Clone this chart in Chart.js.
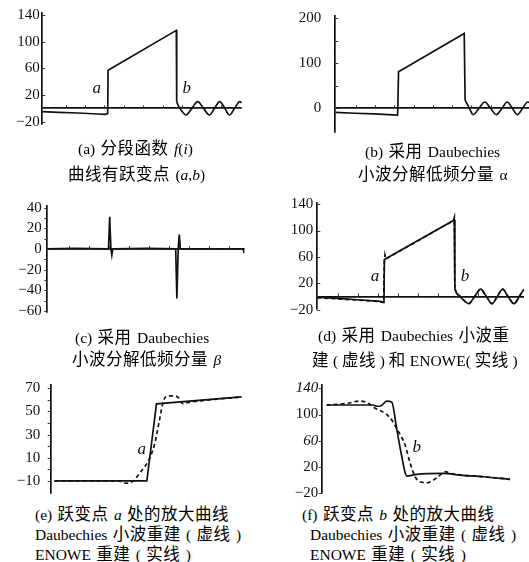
<!DOCTYPE html>
<html><head><meta charset="utf-8">
<script src="https://cdn.jsdelivr.net/npm/chart.js@4.4.1/dist/chart.umd.min.js"></script>
<style>
html,body{margin:0;padding:0;background:#fff;}
#page{position:relative;width:529px;height:562px;overflow:hidden;background:#fff;}
canvas{position:absolute;}
.cap{position:absolute;white-space:nowrap;font-family:"Liberation Serif",serif;font-size:15.5px;line-height:20px;color:#000;word-spacing:1.5px;}
.cap .z{font-family:"Noto Sans CJK SC",sans-serif;font-size:16.5px;letter-spacing:0.5px;}
.cap.tight{word-spacing:0;}
</style></head><body><div id="page">
<canvas id="ca"></canvas><canvas id="cb"></canvas><canvas id="cc"></canvas>
<canvas id="cd"></canvas><canvas id="ce"></canvas><canvas id="cf"></canvas>
<div class="cap" style="left:78px;top:137px">(a) <span class="z">分段函数</span> <i>f</i>(<i>i</i>)</div>
<div class="cap" style="left:68px;top:163px"><span class="z">曲线有跃变点</span> (<i>a</i>,<i>b</i>)</div>
<div class="cap" style="left:365px;top:140px">(b) <span class="z">采用</span> Daubechies</div>
<div class="cap" style="left:358px;top:163px"><span class="z">小波分解低频分量</span> α</div>
<div class="cap" style="left:75px;top:326px">(c) <span class="z">采用</span> Daubechies</div>
<div class="cap" style="left:72px;top:348px"><span class="z">小波分解低频分量</span> <i>β</i></div>
<div class="cap" style="left:318px;top:324px">(d) <span class="z">采用</span> Daubechies <span class="z">小波重</span></div>
<div class="cap tight" style="left:312px;top:349px"><span class="z">建</span> ( <span class="z">虚线</span> ) <span class="z">和</span> ENOWE( <span class="z">实线</span> )</div>
<div class="cap" style="left:35px;top:503px">(e) <span class="z">跃变点</span> <i>a</i> <span class="z">处的放大曲线</span></div>
<div class="cap" style="left:35px;top:523px">Daubechies <span class="z">小波重建</span> ( <span class="z">虚线</span> )</div>
<div class="cap" style="left:35px;top:543px">ENOWE <span class="z">重建</span> ( <span class="z">实线</span> )</div>
<div class="cap" style="left:302px;top:503px">(f) <span class="z">跃变点</span> <i>b</i> <span class="z">处的放大曲线</span></div>
<div class="cap" style="left:310px;top:523px">Daubechies <span class="z">小波重建</span> ( <span class="z">虚线</span> )</div>
<div class="cap" style="left:310px;top:543px">ENOWE <span class="z">重建</span> ( <span class="z">实线</span> )</div>
</div>
<script>
// ---------- data ----------
// (a) piecewise function f(i): straight part and oscillating tail
const aX = [-5, 20, 50, 80, 92, 96, 96.6, 202, 202.6];
const aY = [-5, -6, -7, -8.5, -9, -8, 57, 117, 10];
const aWaveX = [202.6, 205, 209, 217, 226, 235, 244, 253, 261, 269, 277, 284, 292, 300, 303];
const aWaveY = [10, 4, -2, -10, 0, 10, 0, -10, 0, 10, 0, -10, 0, 10, 8];
const aTicksX = [31, 91, 151, 211, 271];
const aTicksY = [-20, 0, 20, 60, 100, 140];
const aMinorX = [31, 61, 91, 121, 151, 181, 211, 241, 271];
const aMinorY = [-20, 20, 60, 100, 140];
// (b) low-frequency component alpha
const bX = [0, 15, 30, 45, 48.6, 49.3, 100.5, 101.2];
const bY = [-9, -11, -12.5, -14.5, -15, 81, 166, 18];
const bWaveX = [101.2, 104, 107.5, 112, 116.5, 121, 125.5, 130, 134, 138, 142, 146, 150, 152];
const bWaveY = [18, 3, -14, 0, 14, 0, -14, 0, 14, 0, -14, 0, 14, 12];
const bTicksX = [16, 46, 76, 106, 136];
const bTicksY = [0, 100, 200];
const bMinorX = [16, 31, 46, 61, 76, 91, 106, 121, 136];
const bMinorY = [0, 50, 100, 150, 200];
// (c) component beta
const cX = [0, 20, 45.9, 46.8, 47.7, 48.4, 49.1, 75, 96.3, 97.2, 98.2, 99.0, 99.8, 125, 147, 147.6];
const cY = [0, 0.5, 0, 31, 0, -6, 0, 0.5, 0, -48, 0, 14, 0, 0, 0, -4];
const cTicksX = [16, 46, 76, 106, 136];
const cTicksY = [-60, -40, -20, 0, 20, 40];
const cMinorX = [16, 31, 46, 61, 76, 91, 106, 121, 136];
const cMinorY = [-60, -50, -40, -30, -20, -10, 10, 20, 30, 40];
// (d) reconstruction: ENOWE (solid) and Daubechies (dashed); tails coincide
const dSolidX = [0, 30, 60, 90, 100, 100.6, 205.5, 206.3];
const dSolidY = [-1, -3, -5, -7, -8, 56, 116, 12];
const dDashX = [0, 30, 60, 90, 99.6, 100.4, 101.5, 103, 204, 205.5, 206.3];
const dDashY = [-2, -3.5, -5.5, -7.5, -9, 50, 63, 57, 115, 120, 12];
const dWaveX = [206.3, 209, 214, 220, 227, 236, 245, 253.5, 262, 270, 278, 286, 295, 303, 310];
const dWaveY = [12, 5, 0, -6, -11, 0, 11, 0, -11, 0, 11, 0, -11, 0, 11];
const dTicksX = [31, 91, 151, 211, 271];
const dTicksY = [-20, 0, 20, 60, 100, 140];
const dMinorX = [31, 61, 91, 121, 151, 181, 211, 241, 271];
const dMinorY = [-20, 20, 60, 100, 140];
// (e) zoom at jump a
const eSolidX = [2, 50, 55, 99.3];
const eSolidY = [-10, -10, 56.5, 62.5];
const eDashX = [2, 35, 39.5, 43, 46.4, 51.6, 54.2, 56.5, 58.6, 61.2, 65.5, 69, 71, 80, 99.3];
const eDashY = [-10, -10, -12, -10, -3, 10, 23, 42, 59, 63.5, 63, 56.5, 57.5, 59.5, 62.5];
const eTicksY = [-10, 10, 30, 50, 70];
const eMinorY = [-10, 0, 10, 20, 30, 40, 50, 60, 70];
// (f) zoom at jump b
const fSolidX = [2.6, 27.2, 28.9, 31, 34.2, 36.8, 39.5, 42.1, 43.8, 44.7, 49.9, 63.9, 72.7, 84.9, 98.9];
const fSolidY = [114.5, 114.5, 112.6, 113, 120.5, 119, 76.6, 35.7, 12, 6.3, 8.9, 10.4, 7.8, 5.2, 1.3];
const fDashX = [2.6, 13.2, 20.2, 24.5, 28.1, 33.3, 36.8, 39.8, 43.8, 46.5, 49.1, 51.7, 55.3, 58.7, 62.3, 64.9, 67.6, 75, 85, 99];
const fDashY = [114.5, 117, 120.6, 117, 109.5, 102, 91.7, 76.6, 53.6, 25.7, 5.2, -2.4, -3.9, 0.2, 7.8, 12.9, 10.4, 7.5, 5.2, 1.3];
const fTicksY = [-20, 20, 60, 100, 140];
const fMinorY = [-20, 20, 60, 100, 140];
const fItalicTicks = [140, 60];

// ---------- drawing ----------
Chart.defaults.font.family = '"Liberation Serif", serif';
Chart.defaults.color = '#000';
const INK = '#111';

const textMarks = {
  id: 'textMarks',
  afterDatasetsDraw(chart, args, opts) {
    const items = (opts && opts.items) || [];
    const ctx = chart.ctx;
    ctx.save();
    ctx.font = 'italic 17px "Liberation Serif", serif';
    ctx.fillStyle = INK;
    ctx.textAlign = 'center';
    ctx.textBaseline = 'middle';
    items.forEach(m => ctx.fillText(m.text, chart.scales.x.getPixelForValue(m.x), chart.scales.y.getPixelForValue(m.y)));
    ctx.restore();
  }
};
// small tick marks along the zero line and the y axis
const minorTicks = {
  id: 'minorTicks',
  afterDraw(chart, args, opts) {
    if (!opts) return;
    const ctx = chart.ctx, sx = chart.scales.x, sy = chart.scales.y, area = chart.chartArea;
    ctx.save();
    ctx.strokeStyle = '#333';
    ctx.lineWidth = 1;
    ctx.beginPath();
    if (opts.xs) {
      const y0 = sy.getPixelForValue(0);
      opts.xs.forEach(v => { const p = Math.round(sx.getPixelForValue(v)) + 0.5; ctx.moveTo(p, y0); ctx.lineTo(p, y0 - 3); });
    }
    if (opts.ys) {
      const side = opts.ySide || 1;
      opts.ys.forEach(v => { const p = Math.round(sy.getPixelForValue(v)) + 0.5; ctx.moveTo(area.left, p); ctx.lineTo(area.left + side * 3, p); });
    }
    ctx.stroke();
    ctx.restore();
  }
};
Chart.register(textMarks, minorTicks);

function pts(xs, ys) { return xs.map((x, i) => ({ x: x, y: ys[i] })); }
function fmt(v) { return v < 0 ? '\u2212' + Math.abs(v) : String(v); }
function line(xs, ys, dashed, curve) {
  return {
    data: pts(xs, ys), borderColor: INK, borderWidth: 1.7, pointRadius: 0, fill: false,
    borderDash: dashed ? [4, 3] : [], cubicInterpolationMode: curve ? 'monotone' : 'default', tension: 0
  };
}

function panel(id, box, area, o) {
  const cv = document.getElementById(id);
  cv.width = box.w; cv.height = box.h;
  cv.style.left = box.l + 'px'; cv.style.top = box.t + 'px';
  cv.style.width = box.w + 'px'; cv.style.height = box.h + 'px';
  const yW = area.l - box.l;
  const pad = { left: 0, top: area.t - box.t, right: box.l + box.w - area.r, bottom: box.t + box.h - area.b };
  new Chart(cv, {
    type: 'line',
    data: { datasets: o.datasets },
    options: {
      responsive: false, animation: false, events: [],
      layout: { padding: pad },
      plugins: { legend: { display: false }, tooltip: { enabled: false },
        textMarks: { items: o.marks || [] }, minorTicks: o.minor || {} },
      scales: {
        x: {
          type: 'linear', min: o.xMin, max: o.xMax, display: !!o.xTicks, position: 'bottom',
          border: { display: false }, grid: { display: false, drawTicks: false },
          ticks: { padding: o.xPad || 0, autoSkip: false, maxRotation: 0, font: { size: 15 }, color: INK, callback: v => fmt(v) },
          afterBuildTicks: s => { if (o.xTicks) s.ticks = o.xTicks.map(v => ({ value: v })); },
          afterFit: s => { s.height = 0; s.paddingLeft = 0; s.paddingRight = 0; }
        },
        y: {
          type: 'linear', min: o.yMin, max: o.yMax, position: 'left',
          border: { display: true, color: INK, width: 1.7 },
          grid: { display: !!o.zero, drawTicks: false, lineWidth: 1.7,
            color: c => (c.tick && c.tick.value === 0) ? INK : 'rgba(0,0,0,0)' },
          ticks: { padding: o.yPad, autoSkip: false, color: INK,
            font: c => ({ size: 15, style: (o.italicTicks && c.tick && o.italicTicks.includes(c.tick.value)) ? 'italic' : 'normal' }),
            callback: v => (o.hideZero && v === 0) ? '' : fmt(v) },
          afterBuildTicks: s => { s.ticks = o.yTicks.map(v => ({ value: v })); },
          afterFit: s => { s.width = yW; s.paddingTop = 0; s.paddingBottom = 0; }
        }
      }
    }
  });
}

panel('ca', { l: 0, t: 0, w: 260, h: 140 }, { l: 42.3, t: 12.7, r: 241.7, b: 124 }, {
  datasets: [line(aX, aY, false, false), line(aWaveX, aWaveY, false, true)],
  xMin: -5, xMax: 303, yMin: -23.5, yMax: 143.5, xTicks: aTicksX, yTicks: aTicksY,
  xPad: -9.7, yPad: 2.5, zero: true, hideZero: true,
  minor: { xs: aMinorX, ys: aMinorY },
  marks: [{ text: 'a', x: 79, y: 30 }, { text: 'b', x: 218, y: 30 }]
});
panel('cb', { l: 265, t: 0, w: 264, h: 140 }, { l: 335.3, t: 16, r: 529, b: 131.7 }, {
  datasets: [line(bX, bY, false, false), line(bWaveX, bWaveY, false, true)],
  xMin: 0, xMax: 151, yMin: -52, yMax: 205, xTicks: bTicksX, yTicks: bTicksY,
  xPad: -17.4, yPad: 14, zero: true,
  minor: { xs: bMinorX, ys: bMinorY }
});
panel('cc', { l: 0, t: 190, w: 260, h: 135 }, { l: 47.3, t: 205.5, r: 244.6, b: 312 }, {
  datasets: [line(cX, cY, false, false)],
  xMin: 0, xMax: 148, yMin: -61, yMax: 42, xTicks: cTicksX, yTicks: cTicksY,
  xPad: -54, yPad: 5.5, zero: true,
  minor: { xs: cMinorX, ys: cMinorY, ySide: -1 }
});
panel('cd', { l: 265, t: 190, w: 264, h: 130 }, { l: 317.3, t: 202.8, r: 524, b: 309 }, {
  datasets: [line(dDashX, dDashY, true, false), line(dSolidX, dSolidY, false, false),
             line(dWaveX, dWaveY, true, true), line(dWaveX, dWaveY, false, true)],
  xMin: 0, xMax: 310, yMin: -19, yMax: 142, xTicks: dTicksX, yTicks: dTicksY,
  xPad: -11, yPad: 4, zero: true, hideZero: true,
  minor: { xs: dMinorX, ys: dMinorY },
  marks: [{ text: 'a', x: 86.5, y: 30 }, { text: 'b', x: 221.4, y: 30 }]
});
panel('ce', { l: 0, t: 375, w: 260, h: 125 }, { l: 50.7, t: 385, r: 243, b: 493 }, {
  datasets: [line(eSolidX, eSolidY, false, false), line(eDashX, eDashY, true, true)],
  xMin: 0, xMax: 100, yMin: -20.4, yMax: 72.8, xTicks: null, yTicks: eTicksY,
  yPad: 10.5, zero: false,
  minor: { ys: eMinorY, ySide: -1 },
  marks: [{ text: 'a', x: 47.3, y: 16.7 }]
});
panel('cf', { l: 265, t: 375, w: 264, h: 125 }, { l: 321.7, t: 385, r: 512, b: 493.3 }, {
  datasets: [line(fSolidX, fSolidY, false, true), line(fDashX, fDashY, true, true)],
  xMin: 0, xMax: 100, yMin: -20, yMax: 145, xTicks: null, yTicks: fTicksY,
  yPad: 3.5, zero: false, italicTicks: fItalicTicks,
  minor: { ys: fMinorY, ySide: -1 },
  marks: [{ text: 'b', x: 49.9, y: 49 }]
});
</script></body></html>
